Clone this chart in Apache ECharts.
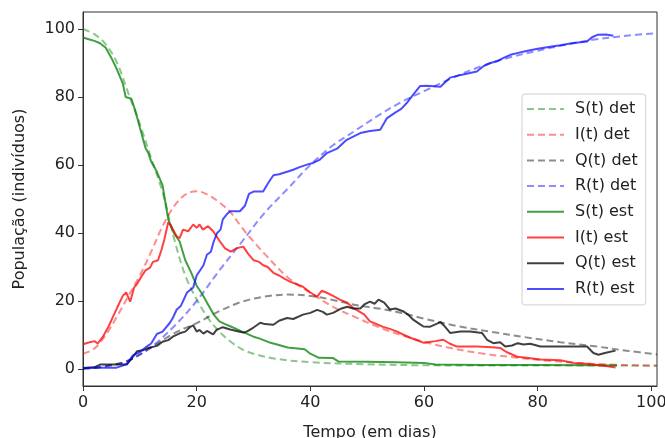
<!DOCTYPE html>
<html>
<head>
<meta charset="utf-8">
<script src="https://cdn.jsdelivr.net/npm/echarts@6/dist/echarts.min.js"></script>
<style>
  html, body { margin: 0; padding: 0; background: #fff; }
  #chart { width: 665px; height: 438px; }
</style>
</head>
<body>
<div id="chart"></div>
<script>
// curvas deterministicas [t, valor]
const sDet = [[0,100],[2,98.5],[4,95.5],[6,90],[8,81],[10,72],[12,62],[14,52],[16,38.5],[18,27.5],[20,20.5],[22,15],[24,11],[26,8],[28,5.8],[30,4.5],[34,3],[40,2],[50,1.4],[60,1.1],[80,1],[101,1]];
const iDet = [[0,4.5],[2,6],[4,10],[6,15.5],[8,21.5],[10,27.5],[12,34.5],[14,42],[16,47.8],[18,51.3],[20,52.3],[22,51.2],[24,49],[26,46],[28,41.5],[30,37.5],[32,33.8],[36,27],[40,22.4],[44,18.3],[48,15.2],[52,12.3],[56,10],[60,8],[64,6.4],[70,4.6],[76,3.4],[82,2.4],[90,1.5],[101,0.9]];
const qDet = [[0,0],[4,0.8],[8,2.5],[12,6.3],[16,10.5],[20,13.5],[24,17],[28,19.8],[32,21.3],[36,21.9],[40,21.5],[44,20.3],[48,18.8],[52,17.8],[56,16.5],[60,14.8],[66,12.6],[72,10.9],[78,9.3],[84,7.9],[90,6.7],[96,5.3],[101,4.3]];
const rDet = [[0,0],[4,0.8],[8,2.5],[12,6.5],[16,12.5],[20,20],[24,29],[28,37.5],[32,46],[36,53],[40,60],[44,65.8],[48,70.2],[52,74.6],[56,78.5],[60,81.7],[65,85.6],[70,89],[75,91.6],[80,93.6],[85,95.4],[90,96.9],[95,97.9],[101,98.8]];

// curvas estocasticas [t, valor]
const sEst = [[0,97.5],[1,97],[2,96.5],[3,95.8],[4,94.5],[5,91.5],[6,88],[7,84],[7.5,80],[8.5,79.5],[9.2,76],[10,71],[11,65],[11.5,63.5],[12,61],[13,58],[14,54],[14.6,48],[15,44],[16,40],[17,37.5],[18,32],[19,28.5],[20,24.5],[21,22],[22,19],[23,16],[24,14],[25,13.2],[26,12.5],[28,11],[30,9.5],[31,9],[33,7.7],[34,7.3],[36,6.3],[39,5.8],[40,4.5],[41.5,3.3],[44,3.2],[45,2.2],[50,2.1],[55,2],[60,1.8],[62,1.3],[70,1.2],[80,1.2],[90,1.1],[94,1]];
const iEst = [[0,7.3],[1,7.8],[2,8.2],[2.6,7.5],[3.5,9.5],[4.5,12.5],[5.3,15.5],[6,18],[7,21.5],[7.6,22.5],[8.3,19.8],[9,24],[9.5,25],[10.4,27.5],[11,29],[11.8,29.8],[12.3,31.5],[13.2,32],[13.8,35],[14.3,38],[15,43.2],[15.5,42],[16.5,39],[17,38.5],[17.6,41],[18.5,40.5],[19.4,42.5],[20,41.5],[20.5,42.5],[21.1,41],[22,42],[22.9,40.5],[23.5,39],[24.1,37.5],[25,35.5],[26,34.5],[27,35.5],[28.2,36],[29,34],[30,32],[31,31.5],[31.7,30.5],[32.5,30],[33.5,28.3],[34.5,27.5],[35.5,26.5],[36.4,25.7],[37.5,25],[38.7,24.2],[40,22.5],[41.2,21.3],[42,23],[42.8,22.5],[44,21.5],[45.2,20.4],[46.5,19.5],[47.5,18],[48.5,17],[49.5,16],[50.5,14],[51.5,13.3],[52.8,12.4],[54,11.8],[55.3,11],[56.5,10],[57.6,9.2],[59,8.3],[60,7.7],[62,8.2],[63.4,8.6],[64.5,7.5],[65.8,6.6],[69.4,6.6],[72,6.4],[73.4,6.2],[74.5,5],[76.4,3.6],[78,3.3],[80.5,2.8],[84,2.6],[86.3,1.8],[88,1.6],[89.8,1.3],[92,0.9],[93.7,0.4]];
const qEst = [[0,0.3],[2,0.5],[3,1.3],[5,1.3],[7.7,1.3],[8.5,3],[9.5,5.2],[10.5,5.5],[11.5,6.2],[13,6.8],[14,8],[15,8.5],[15.8,9.5],[17,10.5],[18,11],[18.8,12.3],[19.4,12.8],[20,11],[20.5,11.5],[21.2,10.4],[21.8,11.2],[22.9,10.2],[23.5,11.5],[24.6,12.3],[25.9,11.6],[27,11.2],[28.2,10.7],[28.8,11],[30,12.2],[31.2,13.6],[32,13.2],[33.5,13],[34.5,14.2],[35.9,15],[37,14.7],[38.7,16],[40,16.5],[41.2,17.4],[42.2,16.8],[42.9,16],[44,16.5],[45.5,17.8],[46.5,18.3],[47.5,17.8],[48.8,17.8],[49.5,19],[50.5,19.8],[51.3,19.2],[52,20.4],[53,19.5],[54,17.5],[55,17.8],[56.3,17],[57.2,16],[58.1,14.5],[59,13.5],[59.9,12.5],[61,12.4],[62.9,13.8],[63.5,12.8],[64.6,10.6],[66.4,11],[68.1,11],[70.2,10.6],[71.1,8.6],[72.2,7.6],[73.4,7.9],[74.3,6.6],[75.5,6.9],[76.5,7.6],[77.5,7.2],[78.7,7.4],[80.5,6.6],[84,6.6],[88.7,6.6],[89.8,4.7],[90.7,4.2],[92,4.8],[93.7,5.4]];
const rEst = [[0,0.3],[3,0.4],[5.9,0.4],[7,1],[7.7,1.5],[8.8,4],[10,5],[11.2,6.6],[12,7.5],[13,10.3],[14,11],[15.3,13.6],[15.8,15],[16.5,17.5],[17.2,18.5],[18.3,22.5],[19.4,24],[20,27.5],[21.2,30.5],[21.8,33.6],[22.5,34.5],[23,37.5],[23.6,40],[24.2,41],[24.6,44],[25.3,45.5],[25.9,46.4],[27.6,46.4],[28.5,48],[29.2,51.5],[30,52.2],[31.7,52.2],[32.5,54.5],[33.5,57],[34.5,57.3],[35.9,58],[37,58.6],[38,59.3],[39.4,60.1],[40.5,60.6],[41.7,61.6],[42.9,63.5],[44.7,64.8],[46.4,67.4],[48.8,69.4],[50.5,70],[52.3,70.4],[53.5,73.8],[55,75.5],[56,76.5],[57,78.3],[58,80.5],[59.3,83.2],[60.5,83.3],[62.9,83],[64,84.8],[64.6,85.7],[66.5,86.5],[69.3,87.5],[70.4,89],[71.7,90],[72.8,90.5],[74,91.5],[75.2,92.4],[76.4,92.9],[78,93.5],[80,94.2],[82.2,94.8],[84,95.2],[86,95.8],[88.7,96.3],[89.5,97.5],[90.5,98.3],[92,98.4],[93.3,98]];

const xTicks = [0, 20, 40, 60, 80, 100];
const yTicks = [0, 20, 40, 60, 80, 100];

const txt = '#222';
const font = 'DejaVu Sans';

function det(name, data, color) {
  return {
    name: name, type: 'line', data: data, showSymbol: false, symbol: 'none',
    smooth: 0.35, lineStyle: { color: color, width: 2, type: [7, 4] },
    itemStyle: { color: color }
  };
}
function est(name, data, color) {
  return {
    name: name, type: 'line', data: data, showSymbol: false, symbol: 'none',
    lineStyle: { color: color, width: 2 },
    itemStyle: { color: color }
  };
}

const chart = echarts.init(document.getElementById('chart'), null, { renderer: 'canvas' });
chart.setOption({
  animation: false,
  backgroundColor: '#fff',
  textStyle: { fontFamily: font },
  grid: {
    left: 83, right: 8, top: 12, bottom: 52,
    show: true, borderColor: '#333', borderWidth: 1,
    outerBoundsMode: 'none'
  },
  legend: {
    orient: 'vertical', left: 522, top: 94,
    padding: [7, 8, 8, 4],
    itemWidth: 37, itemHeight: 14, itemGap: 9.7,
    backgroundColor: 'rgba(255,255,255,0.85)',
    borderColor: '#d0d0d0', borderWidth: 1, borderRadius: 3,
    itemStyle: { color: 'transparent', borderColor: 'transparent', borderWidth: 0 },
    textStyle: { fontFamily: font, fontSize: 16, color: txt, padding: [0, 0, 0, 6] },
    data: ['S(t) det', 'I(t) det', 'Q(t) det', 'R(t) det', 'S(t) est', 'I(t) est', 'Q(t) est', 'R(t) est']
  },
  xAxis: {
    type: 'value', min: 0, max: 101,
    name: 'Tempo (em dias)', nameLocation: 'middle', nameGap: 39,
    nameTextStyle: { fontFamily: font, fontSize: 16, color: txt },
    splitLine: { show: false },
    axisLine: { show: true, onZero: false, lineStyle: { color: '#333', width: 1 } },
    axisTick: { show: true, inside: false, length: 5, lineStyle: { color: '#333' }, customValues: xTicks },
    axisLabel: { fontFamily: font, fontSize: 16, color: txt, margin: 9, customValues: xTicks }
  },
  yAxis: {
    type: 'value', min: -5, max: 105,
    name: 'População (indivíduos)', nameLocation: 'middle', nameGap: 55,
    nameTextStyle: { fontFamily: font, fontSize: 16, color: txt },
    splitLine: { show: false },
    axisLine: { show: true, onZero: false, lineStyle: { color: '#333', width: 1 } },
    axisTick: { show: true, inside: false, length: 5, lineStyle: { color: '#333' }, customValues: yTicks },
    axisLabel: { fontFamily: font, fontSize: 16, color: txt, margin: 8, customValues: yTicks }
  },
  series: [
    det('S(t) det', sDet, 'rgba(0,128,0,0.45)'),
    det('I(t) det', iDet, 'rgba(255,0,0,0.45)'),
    det('Q(t) det', qDet, 'rgba(0,0,0,0.45)'),
    det('R(t) det', rDet, 'rgba(0,0,255,0.45)'),
    est('S(t) est', sEst, 'rgba(0,128,0,0.75)'),
    est('I(t) est', iEst, 'rgba(255,0,0,0.75)'),
    est('Q(t) est', qEst, 'rgba(0,0,0,0.75)'),
    est('R(t) est', rEst, 'rgba(0,0,255,0.7)')
  ]
});
</script>
</body>
</html>
